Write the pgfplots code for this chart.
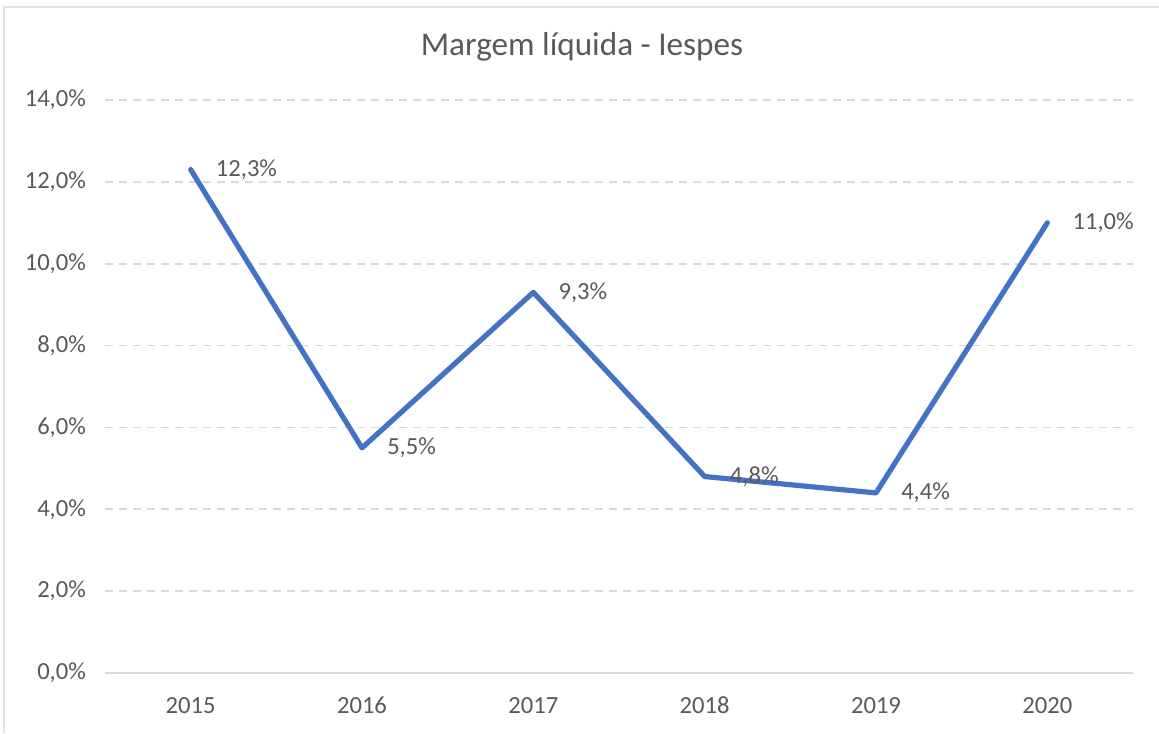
\documentclass[border=0pt]{standalone}
\usepackage{pgfplots}
\pgfplotsset{compat=1.18}
\usepackage{fontspec}
\setmainfont{Carlito}
\definecolor{txt}{HTML}{595959}
\definecolor{grid}{HTML}{D9D9D9}
\definecolor{line}{HTML}{4472C4}
\begin{document}
\begin{tikzpicture}
\path[use as bounding box] (-52.5pt,-30pt) rectangle (527pt,336.5pt);
\draw[color=grid!80, line width=0.6pt] (-50.5pt,-30pt) -- (-50.5pt,333pt) -- (527pt,333pt);
\begin{axis}[
  at={(0,0)}, anchor=south west,
  scale only axis,
  width=514pt, height=286.5pt,
  xmin=-0.5, xmax=5.5,
  ymin=0, ymax=14,
  xtick={0,1,2,3,4,5},
  xticklabels={2015,2016,2017,2018,2019,2020},
  ytick={0,2,4,6,8,10,12,14},
  /pgf/number format/assume math mode=true,
  yticklabel={\pgfmathprintnumber[fixed,zerofill,precision=1,use comma]{\tick}\%},
  axis x line*=bottom,
  axis y line*=left,
  x axis line style={draw=grid, line width=0.9pt},
  y axis line style={draw=none},
  major tick length=0pt,
  ymajorgrids,
  y grid style={draw=grid, line width=0.8pt, dash pattern=on 4pt off 3pt},
  tick label style={font=\fontsize{12.3}{14}\selectfont, text=txt},
  yticklabel style={anchor=east, xshift=-6pt},
  xticklabel style={yshift=-8.5pt},
  clip=false,
  nodes near coords={\pgfmathprintnumber[fixed,zerofill,precision=1,use comma]{\pgfplotspointmeta}\%},
  nodes near coords style={anchor=west, xshift=8pt, font=\fontsize{12.3}{14}\selectfont, text=txt},
]
\addplot[color=line, line width=2.6pt, line join=round, line cap=round, mark=none] coordinates {
  (0,12.3) (1,5.5) (2,9.3) (3,4.8) (4,4.4) (5,11.0)
};
\end{axis}
\node[font=\fontsize{16.6}{19}\selectfont, text=txt] at (238.5pt,313pt) {Margem líquida - Iespes};
\end{tikzpicture}
\end{document}
